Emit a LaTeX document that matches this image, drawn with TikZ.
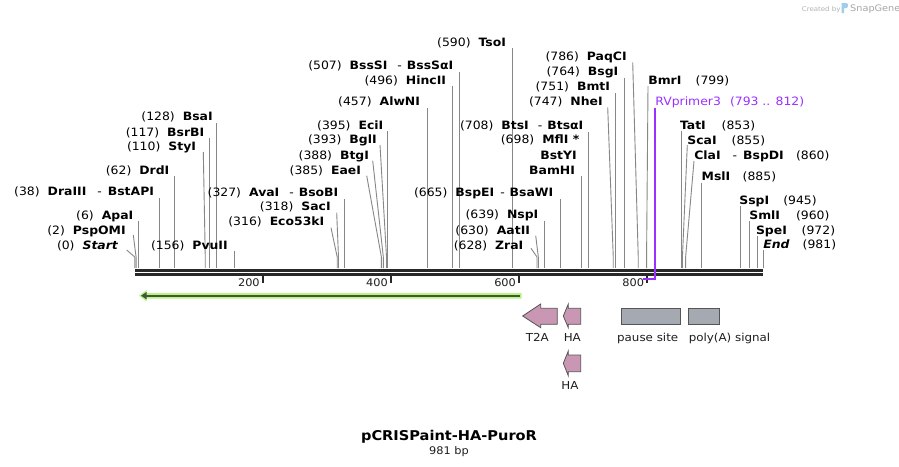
\documentclass[tikz,border=0pt]{standalone}
\usepackage{fontspec}
\setmainfont[FakeStretch=1.08]{DejaVu Sans}
\definecolor{cutgray}{RGB}{135,135,135}
\definecolor{bbone}{RGB}{40,40,40}
\definecolor{primer}{RGB}{155,48,255}
\definecolor{featpink}{RGB}{201,151,180}
\definecolor{featgray}{RGB}{165,170,178}
\definecolor{featedge}{RGB}{85,85,85}
\definecolor{halo}{RGB}{182,244,132}
\definecolor{arrdark}{RGB}{70,85,55}
\definecolor{logoblue}{RGB}{160,205,235}
\definecolor{txtdark}{RGB}{30,30,30}
\newcommand\posx[1]{134.8+0.6405*#1}
\newcommand\enzL[5]{\node[lbl,anchor=base east] (#1) at (#2,#3+4) {(#4)\hspace{8pt}\textbf{#5}};}
\newcommand\enzR[6]{\node[lbl,anchor=base west] (#1) at (#2,#3+4) {\textbf{#6}};\node[lbl,anchor=base west] (#1n) at (#4,#3+4) {(#5)};}
\newcommand\cutV[3]{\coordinate (#1t) at ({\posx{#2}},#3);\coordinate (#1b) at ({\posx{#2}},268);\draw[cutline] (#1t) -- (#1b);}
\newcommand\cutS[4]{\coordinate (#1t) at (#2,#3);\coordinate (#1k) at ({\posx{#4}},257);\coordinate (#1b) at ({\posx{#4}},268);\draw[cutline] (#1t) -- (#1k) -- (#1b);}
\tikzset{
  lbl/.style={font=\fontsize{11.5}{13}\selectfont, inner sep=0pt, outer sep=0pt, text=black},
  ftxt/.style={font=\fontsize{11}{13}\selectfont, inner sep=0pt, text=txtdark},
  cutline/.style={draw=cutgray, line width=0.9pt},
  bbline/.style={draw=bbone, line width=2.8pt},
  tickline/.style={draw=bbone, line width=1.6pt},
  pinkfeat/.style={fill=featpink, draw=featedge, line width=0.8pt, line join=miter},
  grayfeat/.style={fill=featgray, draw=featedge, line width=0.8pt},
}
\begin{document}
\begin{tikzpicture}[x=1pt,y=-1pt]
\useasboundingbox (0,0) rectangle (899,466);
\fill[white] (0,0) rectangle (899,466);

% cut site lines
\cutS{start}{126.7}{250}{0}
\cutS{psp}{133.3}{235}{2}
\cutV{apa}{6}{221}
\cutV{dra}{38}{198}
\cutV{drd}{62}{176}
\cutS{sty}{203.3}{152}{110}
\cutV{bsr}{117}{138}
\cutV{bsa}{128}{123}
\cutV{pvu}{156}{251}
\cutS{eco}{331}{227.7}{316}
\cutS{sac}{336.7}{212.7}{318}
\cutV{ava}{327}{199}
\cutS{eae}{366.7}{175.7}{385}
\cutS{btg}{372.7}{160.7}{388}
\cutS{bgl}{380}{145}{393}
\cutV{eci}{395}{131}
\cutV{alw}{457}{108}
\cutV{hinc}{496}{86}
\cutV{bss}{507}{72}
\cutV{tso}{590}{48}
\cutS{zra}{531}{248.3}{628}
\cutS{aat}{535.7}{235.7}{630}
\cutV{nsp}{639}{221}
\cutV{bspe}{665}{199}
\cutV{bam}{698}{176}
\cutV{bts}{708}{132}
\cutS{nhe}{607.7}{107.3}{747}
\cutV{bmt}{751}{93}
\cutV{bsg}{764}{78}
\cutS{paq}{632.7}{62.3}{786}
\cutS{bmr}{648}{86}{799}
\cutV{tat}{853}{131}
\cutS{sca}{687.3}{145}{855}
\cutS{cla}{694}{161}{860}
\cutV{msl}{885}{183}
\cutV{ssp}{945}{206}
\cutV{sml}{960}{221}
\cutV{spe}{972}{236}
\cutV{endl}{981}{250}

% left labels
\enzL{start}{118.3}{245}{0}{\textit{Start}}
\enzL{psp}{125.7}{230}{2}{PspOMI}
\enzL{apa}{133.3}{215}{6}{ApaI}
\enzL{dra}{154}{191.7}{38}{DraIII\hspace{11pt}\textmd{-}\hspace{6pt}BstAPI}
\enzL{drd}{169.3}{170}{62}{DrdI}
\enzL{sty}{196}{146.7}{110}{StyI}
\enzL{bsr}{204.3}{132.3}{117}{BsrBI}
\enzL{bsa}{212.7}{116.7}{128}{BsaI}
\enzL{pvu}{227.7}{245}{156}{PvuII}
\enzL{eco}{324.3}{221.7}{316}{Eco53kI}
\enzL{sac}{330.7}{206.7}{318}{SacI}
\enzL{ava}{338.3}{192.3}{327}{AvaI\hspace{10pt}\textmd{-}\hspace{5pt}BsoBI}
\enzL{eae}{361}{170}{385}{EaeI}
\enzL{btg}{369}{155}{388}{BtgI}
\enzL{bgl}{376.7}{139.3}{393}{BglI}
\enzL{eci}{383.3}{125}{395}{EciI}
\enzL{alw}{420}{101.7}{457}{AlwNI}
\enzL{hinc}{446}{80}{496}{HincII}
\enzL{bss}{453.3}{65}{507}{BssSI\hspace{10pt}\textmd{-}\hspace{5pt}BssSαI}
\enzL{tso}{506}{42.3}{590}{TsoI}
\enzL{zra}{523.3}{245}{628}{ZraI}
\enzL{aat}{530}{230}{630}{AatII}
\enzL{nsp}{538.3}{214.3}{639}{NspI}
\enzL{bspe}{553.3}{192.3}{665}{BspEI\hspace{6pt}\textmd{-}\hspace{5pt}BsaWI}
\enzL{mfl}{579.3}{139.3}{698}{MflI *}
\node[lbl,anchor=base east] (bsty) at (576.7,159) {\textbf{BstYI}};
\node[lbl,anchor=base east] (bamh) at (575,174) {\textbf{BamHI}};
\enzL{bts}{583.3}{125}{708}{BtsI\hspace{9pt}\textmd{-}\hspace{5pt}BtsαI}
\enzL{nhe}{602.7}{101.7}{747}{NheI}
\enzL{bmt}{610}{86.7}{751}{BmtI}
\enzL{bsg}{618.3}{71.7}{764}{BsgI}
\enzL{paq}{626.7}{56.7}{786}{PaqCI}

% right labels
\enzR{bmr}{648.3}{80}{695.7}{799}{BmrI}
\node[lbl,anchor=base west,text=primer] (rv) at (655.3,105.7) {RVprimer3};
\node[lbl,anchor=base west,text=primer] (rvn) at (730,105.7) {(793 .. 812)};
\enzR{tat}{680}{125}{721.7}{853}{TatI}
\enzR{sca}{687.3}{140}{731.7}{855}{ScaI}
\enzR{cla}{694.3}{155}{796}{860}{ClaI\hspace{12pt}\textmd{-}\hspace{6pt}BspDI}
\enzR{msl}{701.7}{176.7}{742.7}{885}{MslI}
\enzR{ssp}{739.3}{200}{783.3}{945}{SspI}
\enzR{sml}{749.3}{215}{796}{960}{SmlI}
\enzR{spe}{756}{230}{801.7}{972}{SpeI}
\enzR{endl}{763.3}{244.3}{802.7}{981}{\textit{End}}

% backbone
\coordinate (bbL1) at (134.8,270.3);
\coordinate (bbR1) at (763.3,270.3);
\coordinate (bbL2) at (134.8,274.2);
\coordinate (bbR2) at (763.3,274.2);
\draw[bbline] (bbL1) -- (bbR1);
\draw[bbline] (bbL2) -- (bbR2);

% ticks
\foreach \v in {200,400,600,800}{
  \coordinate (tk\v) at ({\posx{\v}},276);
  \draw[tickline] (tk\v) -- ++(0,7);
  \node[font=\fontsize{10.5}{12}\selectfont, inner sep=0pt, anchor=base east, text=txtdark] (tl\v) at ({\posx{\v}-3},286.5) {\v};
}

% primer
\coordinate (rvtop) at ({\posx{812}},108);
\coordinate (rvcorner) at ({\posx{812}},279);
\coordinate (rvend) at ({\posx{793}},279);
\draw[primer, line width=1.3pt] (rvtop) -- (rvcorner) -- (rvend);

% green arrow
\coordinate (gaR) at (521.7,295.7);
\coordinate (gaL) at (139,295.7);
\fill[halo] (gaL) -- (146.5,290) -- (146.5,293) -- (521.7,293) -- (521.7,298.6) -- (146.5,298.6) -- (146.5,301.4) -- cycle;
\draw[arrdark, line width=2pt] (520,295.7) -- (145,295.7);
\fill[arrdark] (141,295.7) -- (146.5,292) -- (146.5,299.4) -- cycle;

% features
\draw[pinkfeat] (522.7,316) -- (540.7,304) -- (540.7,308.3) -- (557.3,308.3) -- (557.3,324.3) -- (540.7,324.3) -- (540.7,327.7) -- cycle;
\draw[pinkfeat] (563.3,316) -- (568.3,304) -- (568.3,308.3) -- (580.7,308.3) -- (580.7,324.3) -- (568.3,324.3) -- (568.3,327.7) -- cycle;
\draw[pinkfeat] (563.3,363.3) -- (568.3,351) -- (568.3,355) -- (580.7,355) -- (580.7,371.7) -- (568.3,371.7) -- (568.3,375.7) -- cycle;
\draw[grayfeat] (621,308.3) rectangle (680.7,324.3);
\draw[grayfeat] (688.3,308.3) rectangle (719.3,324.3);
\node[ftxt, anchor=base] (t2a) at (537.3,341.7) {T2A};
\node[ftxt, anchor=base] (ha1) at (572.3,341.7) {HA};
\node[ftxt, anchor=base] (ha2) at (570,389) {HA};
\node[ftxt, anchor=base] (pause) at (647.7,341.7) {pause site};
\node[ftxt, anchor=base] (polya) at (729.5,341.7) {poly(A) signal};

% title
\node[font=\fontsize{13.5}{15}\selectfont\bfseries, inner sep=0pt, anchor=base, text=black] (title) at (449,440.7) {pCRISPaint-HA-PuroR};
\node[font=\fontsize{10.5}{12}\selectfont, inner sep=0pt, anchor=base, text=txtdark] (size) at (449,454.3) {981 bp};

% credit
\node[font=\fontsize{6.5}{7}\selectfont, inner sep=0pt, anchor=base west, text=black!30] (cby) at (801.7,11) {Created by};
\fill[logoblue] (841.5,3) -- (846.5,3) .. controls (848.5,3) and (848.5,8) .. (846.5,8) -- (844,8) -- (844,13) -- (841.5,13) -- cycle;
\node[font=\fontsize{9}{10}\selectfont, inner sep=0pt, anchor=base west, text=black!35] (sg) at (850,11.5) {SnapGene};
\end{tikzpicture}
\end{document}
